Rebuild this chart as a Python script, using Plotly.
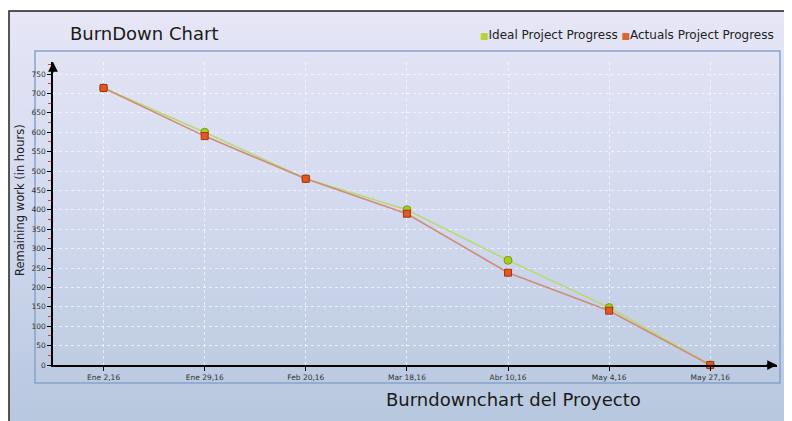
import base64
import plotly.graph_objects as go

# ---- data ----
dates = ["Ene 2,16", "Ene 29,16", "Feb 20,16", "Mar 18,16", "Abr 10,16", "May 4,16", "May 27,16"]
ideal = [714, 600, 480, 400, 270, 148, 0]
actual = [714, 590, 480, 390, 238, 140, 0]
y_ticks = list(range(0, 751, 50))

# ---- geometry (page pixels; the page body has an 8px margin) ----
PAGE_W, PAGE_H = 792, 421
OFF = 8
W, H = PAGE_W - OFF, PAGE_H - OFF
L, R, T, B = 53, 777, 62, 365   # plot area in page pixels
def px(x):
    return (x - L) / (R - L)
def py(y):
    return (B - y) / (B - T)

svg = ("<svg xmlns='http://www.w3.org/2000/svg' width='100' height='100' preserveAspectRatio='none'>"
       "<defs><linearGradient id='g' x1='0' y1='0' x2='0' y2='1'>"
       "<stop offset='0' stop-color='#e6e6f6'/><stop offset='0.5' stop-color='#d2d9ee'/>"
       "<stop offset='1' stop-color='#b6c7de'/></linearGradient></defs>"
       "<rect width='100' height='100' fill='url(#g)'/></svg>")
svg_uri = "data:image/svg+xml;base64," + base64.b64encode(svg.encode()).decode()

fig = go.Figure()
fig.add_trace(go.Scatter(
    x=dates, y=ideal, mode="lines+markers", name="Ideal Project Progress",
    line=dict(color="#bcd873", width=1.6),
    marker=dict(symbol="circle", size=8, color="#a6cc1e", line=dict(color="#7d9a18", width=1)),
    cliponaxis=False, showlegend=False))
fig.add_trace(go.Scatter(
    x=dates, y=actual, mode="lines+markers", name="Actuals Project Progress",
    line=dict(color="#cf8c78", width=1.6),
    marker=dict(symbol="square", size=7, color="#e2581e", line=dict(color="#a8321a", width=1)),
    cliponaxis=False, showlegend=False))

grid = dict(showgrid=True, gridcolor="rgba(255,255,255,0.65)", griddash="3px,3px", gridwidth=1)

fig.update_layout(
    width=W, height=H,
    margin=dict(l=L - OFF, r=PAGE_W - R, t=T - OFF, b=PAGE_H - B),
    paper_bgcolor="white", plot_bgcolor="rgba(0,0,0,0)",
    font=dict(family="DejaVu Sans", color="#222"),
    showlegend=False,
    xaxis=dict(type="category", range=[-0.5, 6.66], showline=True, linecolor="black", linewidth=1.5,
               ticks="outside", ticklen=4, tickcolor="black", tickfont=dict(size=7.5, color="#333"),
               zeroline=False, fixedrange=True, **grid),
    yaxis=dict(range=[0, 781], showline=True, linecolor="black", linewidth=1.5,
               tickvals=y_ticks, ticks="outside", ticklen=4, tickcolor="black",
               tickfont=dict(size=7.5, color="#333"),
               minor=dict(dtick=25, tick0=0, ticks="outside", ticklen=3, tickcolor="#e03a3a", showgrid=False),
               zeroline=False, fixedrange=True, **grid),
    images=[dict(source=svg_uri, xref="paper", yref="paper", x=px(9), y=py(11),
                 sizex=px(PAGE_W + 5) - px(9), sizey=py(11) - py(PAGE_H + 5),
                 xanchor="left", yanchor="top", sizing="stretch", layer="below")],
    shapes=[
        dict(type="rect", xref="paper", yref="paper", x0=px(9), x1=px(PAGE_W + 5), y0=py(PAGE_H + 5), y1=py(11),
             line=dict(color="#222", width=1.5), fillcolor="rgba(0,0,0,0)", layer="below"),
        dict(type="rect", xref="paper", yref="paper", x0=px(35), x1=px(780), y0=py(383), y1=py(51),
             line=dict(color="#87a2cc", width=1.5), fillcolor="rgba(0,0,0,0)", layer="below"),
    ],
    annotations=[
        dict(text="BurnDown Chart", xref="paper", yref="paper", x=px(68), y=py(33),
             xanchor="left", yanchor="middle", showarrow=False, font=dict(size=18, color="#1a1a1a")),
        dict(text="Burndownchart del Proyecto", xref="paper", yref="paper", x=px(513), y=py(399),
             xanchor="center", yanchor="middle", showarrow=False, font=dict(size=18, color="#1a1a1a")),
        dict(text="Remaining work (in hours)", xref="paper", yref="paper", x=px(20), y=py(200),
             xanchor="center", yanchor="middle", textangle=-90, showarrow=False,
             font=dict(size=11.5, color="#222")),
        dict(text="<span style='color:#b5d334;font-size:9px'>■</span>Ideal Project Progress "
                  "<span style='color:#e0632a;font-size:9px'>■</span>Actuals Project Progress",
             xref="paper", yref="paper", x=px(776), y=py(35), xanchor="right", yanchor="middle",
             showarrow=False, font=dict(size=12, color="#222")),
        # axis arrows
        dict(text="", xref="x domain", yref="y domain", x=1, y=0, ax=-12, ay=0,
             showarrow=True, arrowhead=2, arrowsize=1.3, arrowwidth=1.5, arrowcolor="black"),
        dict(text="", xref="x domain", yref="y domain", x=0, y=1, ax=0, ay=12,
             showarrow=True, arrowhead=2, arrowsize=1.3, arrowwidth=1.5, arrowcolor="black"),
    ],
)

fig.write_html("out.html")
